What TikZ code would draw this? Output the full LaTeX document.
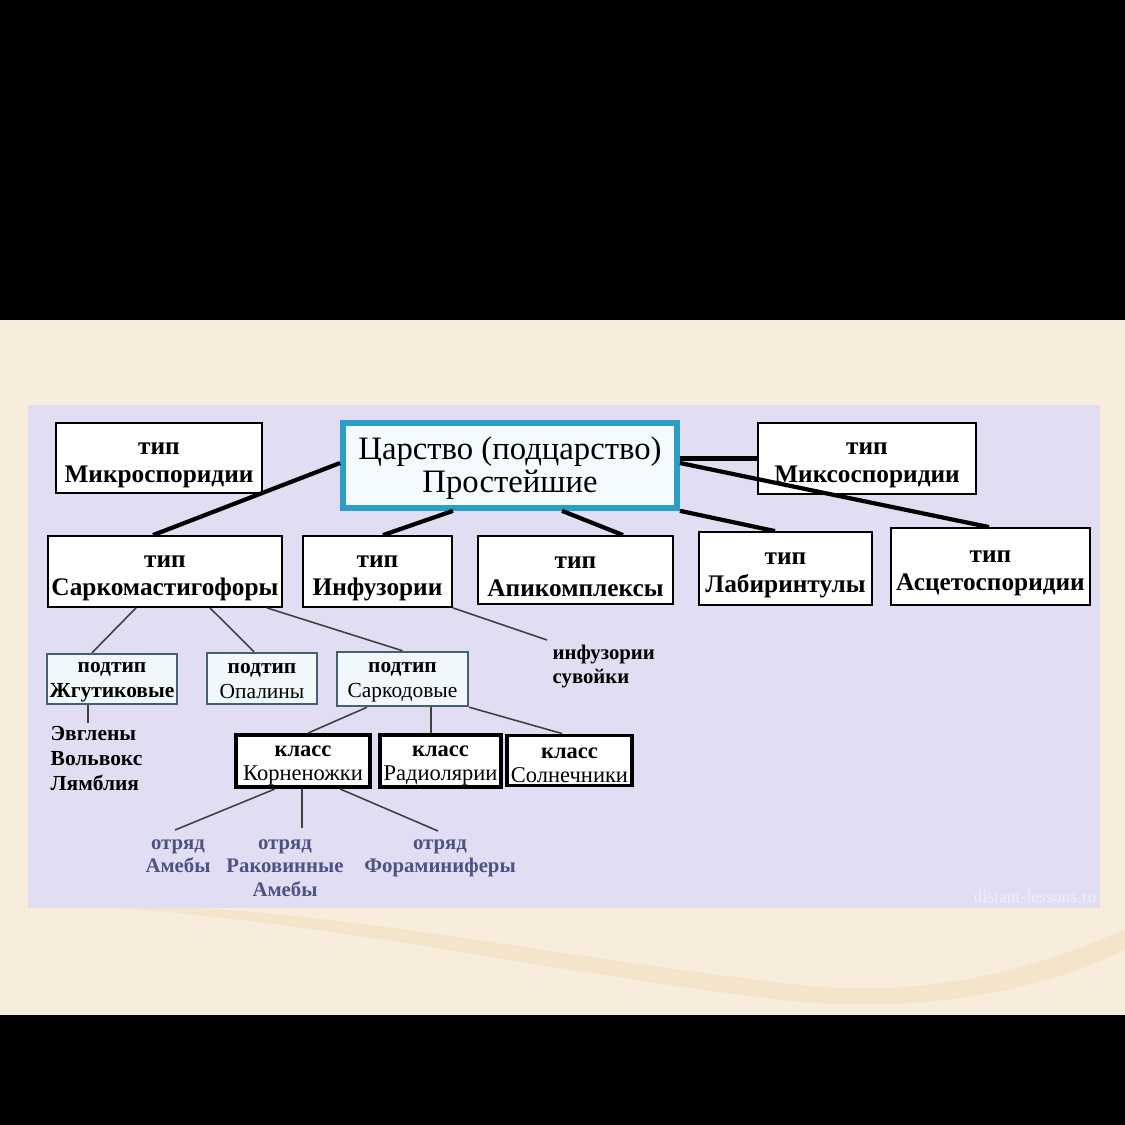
\documentclass[tikz,border=0pt]{standalone}
\usepackage{fontspec}
\setmainfont{Liberation Serif}
\usetikzlibrary{positioning,calc}
\definecolor{bgcream}{HTML}{F8ECDC}
\definecolor{panelviolet}{HTML}{E1DEF3}
\definecolor{kingteal}{HTML}{2C9DC6}
\definecolor{kingfill}{HTML}{F4FBFD}
\definecolor{subline}{HTML}{45606E}
\definecolor{subfill}{HTML}{F1F8FB}
\definecolor{ordertext}{HTML}{4E5282}
\definecolor{wavecream}{HTML}{F2E0BF}
% invisible strut that pushes the first line of a box down
\newcommand{\topgap}[1]{\rule{0pt}{#1}}

\begin{document}
\begin{tikzpicture}[
  x=0.01cm, y=-0.01cm,
  typebox/.style={draw=black, line width=0.5pt, fill=white, align=center, inner sep=0pt,
    font=\bfseries\fontsize{7.2}{8}\selectfont},
  subbox/.style={draw=subline, line width=0.7pt, fill=subfill, align=center, inner sep=0pt,
    font=\bfseries\fontsize{6.1}{7.1}\selectfont},
  classbox/.style={draw=black, line width=1.1pt, fill=white, align=center, inner sep=0pt,
    font=\bfseries\fontsize{6.4}{6.8}\selectfont},
  ordertxt/.style={align=center, inner sep=1pt, text=ordertext,
    font=\bfseries\fontsize{5.9}{6.8}\selectfont},
  thickln/.style={line width=1.2pt, black},
  thinln/.style={line width=0.45pt, black!75},
]
\useasboundingbox (0,0) rectangle (1125,1125);
% backdrop
\fill[black] (0,0) rectangle (1125,1125);
\fill[bgcream] (0,320) rectangle (1125,1015);
\fill[wavecream, opacity=0.6] (60,905) .. controls (300,900) and (500,950) .. (800,985)
  .. controls (950,1000) and (1050,960) .. (1125,930) -- (1125,950)
  .. controls (1040,990) and (930,1015) .. (780,1000)
  .. controls (500,965) and (300,915) .. (60,905) -- cycle;
\fill[panelviolet] (28,405) rectangle (1100,908);
\node[text=white, opacity=0.5, font=\fontsize{5}{6}\selectfont] (mark) at (1035,897) {distant-lessons.ru};

% kingdom and types
\node[draw=kingteal, line width=1.6pt, fill=kingfill, minimum width=3.34cm, minimum height=0.85cm,
      inner sep=0pt, align=center, font=\fontsize{9.3}{9.4}\selectfont] (king) at (510,465.5)
  {\topgap{8.2pt}Царство (подцарство)\\Простейшие};
\node[typebox, minimum width=2.06cm, minimum height=0.70cm] (micro) at (159,458) {\topgap{7.3pt}тип\\Микроспоридии};
\node[typebox, minimum width=2.18cm, minimum height=0.71cm] (myxo) at (867,458.5) {\topgap{7.3pt}тип\\Миксоспоридии};
\node[typebox, minimum width=2.34cm, minimum height=0.71cm] (sarc) at (165,571.5) {\topgap{7.3pt}тип\\Саркомастигофоры};
\node[typebox, minimum width=1.49cm, minimum height=0.71cm] (infu) at (377.5,571.5) {\topgap{7.3pt}тип\\Инфузории};
\node[typebox, minimum width=1.95cm, minimum height=0.68cm] (apic) at (575.5,570) {\topgap{7.3pt}тип\\Апикомплексы};
\node[typebox, minimum width=1.73cm, minimum height=0.73cm] (labi) at (785.5,568.5) {\topgap{7.3pt}тип\\Лабиринтулы};
\node[typebox, minimum width=1.99cm, minimum height=0.77cm] (asce) at (990.5,566.5) {\topgap{7.3pt}тип\\Асцетоспоридии};

\draw[thickln] ($(micro.east)+(0,4)$) -- ($(micro.east)+(0,4)$ -| king.west);
\draw[thickln] (king.east |- myxo.west) -- (myxo.west);
\draw[thickln] ($(sarc.north)+(-12,0)$) -- ($(king.west)+(0,-2.5)$);
\draw[thickln] ($(infu.north)+(5.5,0)$) -- ($(king.south)+(-57,0)$);
\draw[thickln] ($(apic.north)+(47.5,0)$) -- ($(king.south)+(52,0)$);
\draw[thickln] ($(labi.north)+(-10.5,0)$) -- (king.south east);
\draw[thickln] ($(asce.north)+(-1.5,0)$) -- ($(king.east)+(0,-2.5)$);

% subtypes
\node[subbox, minimum width=1.30cm, minimum height=0.50cm] (flag) at (112,679) {\topgap{4.5pt}подтип\\Жгутиковые};
\node[subbox, minimum width=1.10cm, minimum height=0.51cm] (opal) at (262,678.5) {\topgap{4.5pt}подтип\\{\mdseries Опалины}};
\node[subbox, minimum width=1.31cm, minimum height=0.54cm] (sarco) at (402.5,679) {\topgap{4.5pt}подтип\\{\mdseries Саркодовые}};
\node[anchor=north west, align=left, inner sep=0pt, font=\bfseries\fontsize{5.9}{7}\selectfont]
  (infsp) at (552,644) {инфузории\\сувойки};
\node[anchor=north west, align=left, inner sep=0pt, font=\bfseries\fontsize{6.1}{7.1}\selectfont]
  (eug) at (50,726) {Эвглены\\Вольвокс\\Лямблия};

\draw[thinln] ($(sarc.south)+(-29,0)$) -- ($(flag.north)+(-20,0)$);
\draw[thinln] ($(sarc.south)+(45,0)$) -- ($(opal.north)+(-8,0)$);
\draw[thinln] ($(sarc.south)+(102,0)$) -- (sarco.north);
\draw[thinln] (infu.south east) -- ($(infsp.north west)+(-5,-4)$);
\draw[thinln] ($(flag.south)+(-24,0)$) -- ($(eug.north west)+(38,-3)$);

% classes
\node[classbox, minimum width=1.34cm, minimum height=0.52cm] (rhiz) at (303,761) {\topgap{5.5pt}класс\\{\mdseries Корненожки}};
\node[classbox, minimum width=1.21cm, minimum height=0.52cm] (radi) at (440.5,761) {\topgap{5.5pt}класс\\{\mdseries Радиолярии}};
\node[classbox, minimum width=1.25cm, minimum height=0.50cm] (heli) at (569.5,760.5) {\topgap{5.5pt}класс\\{\mdseries Солнечники}};

\draw[thinln] ($(sarco.south)+(-35.5,0)$) -- ($(rhiz.north)+(5,0)$);
\draw[thinln] ($(sarco.south)+(28.5,0)$) -- ($(radi.north)+(-9.5,0)$);
\draw[thinln] (sarco.south east) -- ($(heli.north)+(-7.5,0)$);

% orders
\node[ordertxt, anchor=north] (ameb) at (178,835) {отряд\\Амебы};
\node[ordertxt, anchor=north] (test) at (285,835) {отряд\\Раковинные\\Амебы};
\node[ordertxt, anchor=north] (fora) at (440,835) {отряд\\Фораминиферы};

\draw[thinln] ($(rhiz.south)+(-28,0)$) -- ($(ameb.north)+(-3,-5)$);
\draw[thinln] ($(rhiz.south)+(-1,0)$) -- ($(test.north)+(17,-7)$);
\draw[thinln] ($(rhiz.south)+(37,0)$) -- ($(fora.north)+(-2,-4)$);
\end{tikzpicture}
\end{document}
